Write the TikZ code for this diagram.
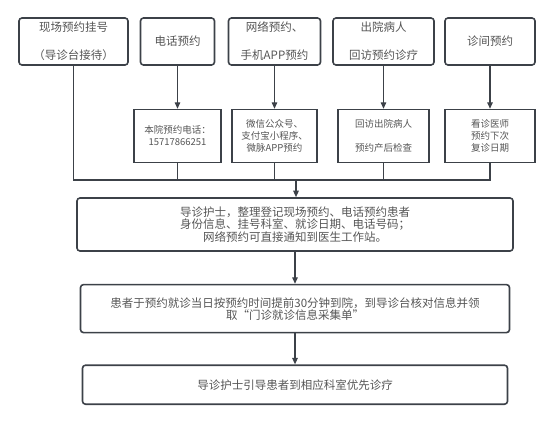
\documentclass[tikz,border=0pt]{standalone}
\usepackage{fontspec}
\usepackage{xcolor}
\usepackage{tikz}
\usetikzlibrary{arrows.meta,positioning}
\newfontfamily\cjk{Noto Sans CJK SC}
\definecolor{edge}{HTML}{3C4148}
\definecolor{ink}{HTML}{555555}

\begin{document}
\begin{tikzpicture}[>={Triangle[length=6.5pt,width=5.5pt]},x=1pt,y=1pt,line width=1.3pt,draw=edge]
      \tikzstyle{srcbox}=[draw=edge,line width=1.6pt,rounded corners=3pt,text=ink,align=center,inner sep=0pt,minimum height=47pt,font=\cjk\fontsize{11.5pt}{11pt}\selectfont]
      \tikzstyle{infobox}=[draw=edge,line width=1.1pt,text=ink,align=center,inner sep=0pt,minimum height=53pt,font=\cjk\fontsize{9.5pt}{12pt}\selectfont]
      \tikzstyle{stepbox}=[draw=edge,line width=1.6pt,rounded corners=3pt,text=ink,align=center,inner sep=0pt,font=\cjk\fontsize{11.5pt}{11pt}\selectfont]
      \useasboundingbox (0,0) rectangle (553,-420);
      % appointment channels
      \node[srcbox,minimum width=109pt] (onsite) at (73.5,-41.5) {现场预约挂号\\[17pt]（导诊台接待）};
      \node[srcbox,minimum width=74pt] (phone) at (177.5,-41.5) {电话预约};
      \node[srcbox,minimum width=92pt] (online) at (274.5,-41.5) {网络预约、\\[17pt]手机APP预约};
      \node[srcbox,minimum width=101pt] (discharge) at (383.5,-41.5) {出院病人\\[17pt]回访预约诊疗};
      \node[srcbox,minimum width=90pt] (clinic) at (490,-41.5) {诊间预约};
      \node[infobox,minimum width=87pt,below=43pt of phone] (phoneinfo) {本院预约电话：\\15717866251};
      \node[infobox,minimum width=85pt,below=43pt of online] (onlineinfo) {微信公众号、\\支付宝小程序、\\微脉APP预约};
      \node[infobox,minimum width=91pt,below=43pt of discharge] (dischargeinfo) {回访出院病人\\[12pt]预约产后检查};
      \node[infobox,minimum width=90pt,below=43pt of clinic] (clinicinfo) {看诊医师\\预约下次\\复诊日期};
      \draw[->] (phone) -- (phoneinfo);
      \draw[->] (online) -- (onlineinfo);
      \draw[->] (discharge) -- (dischargeinfo);
      \draw[->] (clinic) -- (clinicinfo);
      % collecting line
      \coordinate (bus) at (296,-180);
      \draw (onsite.south) |- (clinicinfo.south |- bus) -- (clinicinfo.south);
      \draw (phoneinfo.south) -- (phoneinfo.south |- bus);
      \draw (onlineinfo.south) -- (onlineinfo.south |- bus);
      \draw (dischargeinfo.south) -- (dischargeinfo.south |- bus);
      % main steps
      \node[stepbox,minimum width=436pt,minimum height=53pt] (nurse) at (295,-224.5) {导诊护士，整理登记现场预约、电话预约患者\\身份信息、挂号科室、就诊日期、电话号码；\\网络预约可直接通知到医生工作站。};
      \node[stepbox,minimum width=429pt,minimum height=48pt,below=32pt of nurse] (arrive) {患者于预约就诊当日按预约时间提前30分钟到院，到导诊台核对信息并领\\取“门诊就诊信息采集单”};
      \node[stepbox,minimum width=425pt,minimum height=39pt,below=31pt of arrive] (guide) {导诊护士引导患者到相应科室优先诊疗};
      \draw[->] (bus) -- (nurse.north -| bus);
      \draw[->] (nurse) -- (arrive);
      \draw[->] (arrive) -- (guide);
\end{tikzpicture}
\end{document}
